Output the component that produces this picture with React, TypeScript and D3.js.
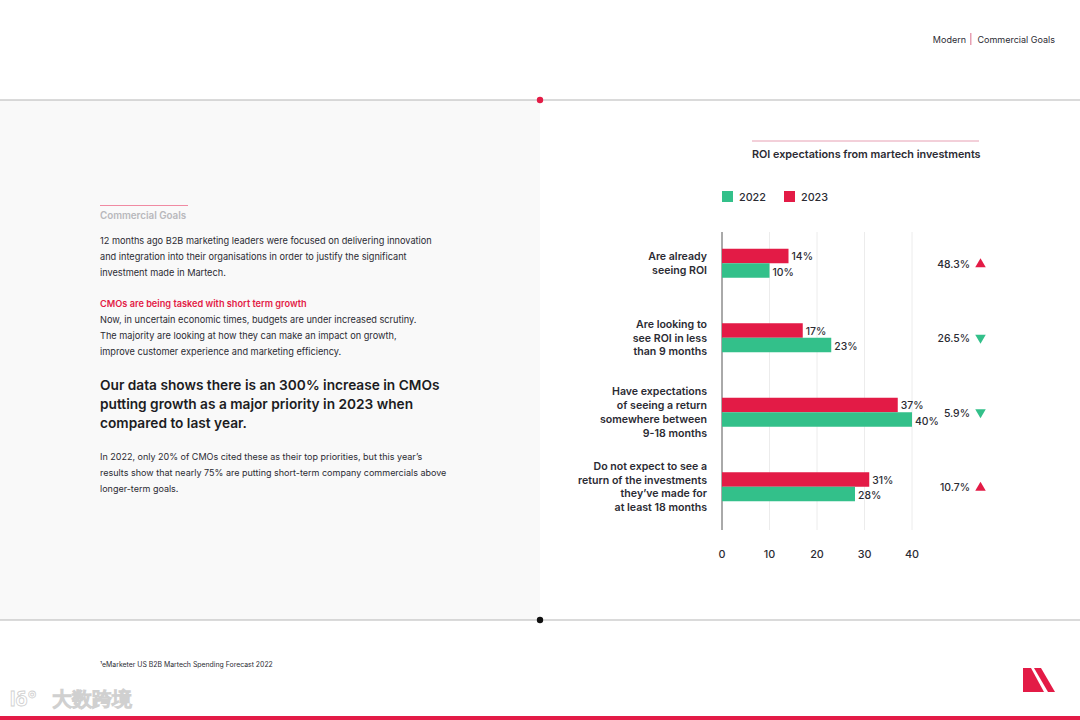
import * as d3 from 'd3'

const categories = [
  ['Are already', 'seeing ROI'],
  ['Are looking to', 'see ROI in less', 'than 9 months'],
  ['Have expectations', 'of seeing a return', 'somewhere between', '9-18 months'],
  ['Do not expect to see a', 'return of the investments', 'they\u2019ve made for', 'at least 18 months'],
]
const values2022 = [10, 23, 40, 28]
const values2023 = [14, 17, 37, 31]
const changeLabels = ['48.3%', '26.5%', '5.9%', '10.7%']
const changeDirections = ['up', 'down', 'down', 'up']
const xTicks = [0, 10, 20, 30, 40]

const introLines = [
  '12 months ago B2B marketing leaders were focused on delivering innovation',
  'and integration into their organisations in order to justify the significant',
  'investment made in Martech.',
]
const growthLines = [
  'Now, in uncertain economic times, budgets are under increased scrutiny.',
  'The majority are looking at how they can make an impact on growth,',
  'improve customer experience and marketing efficiency.',
]
const headlineLines = [
  'Our data shows there is an 300% increase in CMOs',
  'putting growth as a major priority in 2023 when',
  'compared to last year.',
]
const closingLines = [
  'In 2022, only 20% of CMOs cited these as their top priorities, but this year\u2019s',
  'results show that nearly 75% are putting short-term company commercials above',
  'longer-term goals.',
]

const RED = '#e31b46'
const GREEN = '#33c08a'
const DARK = '#2b2b33'
const FONT = 'Inter, "Noto Sans", sans-serif'

export default function App() {
  const x = d3.scaleLinear().domain([0, 40]).range([722, 912])
  const y = d3.scaleBand<number>().domain(d3.range(categories.length)).range([226, 524])
  const barH = 14.5
  const tri = d3.symbol(d3.symbolTriangle, 48)()

  return (
    <svg
      width={1080}
      height={720}
      style={{ position: 'absolute', left: 0, top: 0, background: '#fff', fontFamily: FONT }}
    >
      {/* header */}
      <text x={966} y={43} fontSize={9} fill={DARK} textAnchor="end">Modern</text>
      <rect x={970} y={33} width={1.5} height={12} fill="#e7a0b3" />
      <text x={1055} y={43} fontSize={9} fill={DARK} textAnchor="end">Commercial Goals</text>

      {/* left panel */}
      <rect x={0} y={100} width={540} height={520} fill="#f9f9f9" />
      <line x1={0} x2={1080} y1={100} y2={100} stroke="#b5b5b5" strokeWidth={1.2} />
      <line x1={0} x2={1080} y1={620} y2={620} stroke="#b5b5b5" strokeWidth={1.2} />
      <circle cx={540} cy={100} r={3.2} fill={RED} />
      <circle cx={540} cy={620} r={3.2} fill="#111" />

      <line x1={100} x2={188} y1={205.5} y2={205.5} stroke="#f08aa2" strokeWidth={1} />
      <text x={100} y={219} fontSize={9.8} fontWeight={600} fill="#b8b8bc">Commercial Goals</text>
      {introLines.map((t, i) => (
        <text key={t} x={100} y={244 + i * 16} fontSize={9.2} fill={DARK}>{t}</text>
      ))}
      <text x={100} y={307} fontSize={9.2} fontWeight={600} fill={RED}>CMOs are being tasked with short term growth</text>
      {growthLines.map((t, i) => (
        <text key={t} x={100} y={323 + i * 16} fontSize={9.2} fill={DARK}>{t}</text>
      ))}
      {headlineLines.map((t, i) => (
        <text key={t} x={100} y={390 + i * 19} fontSize={13.7} fontWeight={600} fill="#1c1c22">{t}</text>
      ))}
      {closingLines.map((t, i) => (
        <text key={t} x={100} y={460 + i * 16} fontSize={9} fill={DARK}>{t}</text>
      ))}

      {/* chart title */}
      <line x1={752} x2={979} y1={141} y2={141} stroke="#e7a0b3" strokeWidth={1} />
      <text x={752} y={158} fontSize={10.8} fontWeight={600} fill={DARK}>ROI expectations from martech investments</text>

      {/* legend */}
      <rect x={722} y={191} width={11} height={11} fill={GREEN} />
      <text x={739} y={200.5} fontSize={10.8} fontWeight={500} fill={DARK}>2022</text>
      <rect x={784} y={191} width={11} height={11} fill={RED} />
      <text x={801} y={200.5} fontSize={10.8} fontWeight={500} fill={DARK}>2023</text>

      {/* grid */}
      {xTicks.slice(1).map((t) => (
        <line key={t} x1={x(t)} x2={x(t)} y1={232} y2={530} stroke="#ececec" strokeWidth={1} />
      ))}
      <line x1={x(0)} x2={x(0)} y1={232} y2={530} stroke="#555" strokeWidth={1} />
      {xTicks.map((t) => (
        <text key={t} x={x(t)} y={558} fontSize={10.8} fontWeight={500} fill={DARK} textAnchor="middle">{t}</text>
      ))}

      {/* bars */}
      {categories.map((lines, i) => {
        const cy = (y(i) as number) + y.bandwidth() / 2
        const lh = 13.8
        const top = cy - ((lines.length - 1) * lh) / 2
        return (
          <g key={i}>
            {lines.map((l, j) => (
              <text key={l} x={707} y={top + j * lh + 3.8} fontSize={10.6} fontWeight={600} fill={DARK} textAnchor="end">{l}</text>
            ))}
            <rect x={x(0)} y={cy - barH} width={x(values2023[i]) - x(0)} height={barH} fill={RED} />
            <rect x={x(0)} y={cy} width={x(values2022[i]) - x(0)} height={barH} fill={GREEN} />
            <text x={x(values2023[i]) + 3} y={cy - barH / 2 + 4} fontSize={10.4} fontWeight={500} fill={DARK}>{values2023[i]}%</text>
            <text x={x(values2022[i]) + 3} y={cy + barH / 2 + 5} fontSize={10.4} fontWeight={500} fill={DARK}>{values2022[i]}%</text>
            <text x={970} y={cy + 4.5} fontSize={10.4} fontWeight={500} fill={DARK} textAnchor="end">{changeLabels[i]}</text>
            <path
              d={tri as string}
              transform={`translate(980.5,${cy + (changeDirections[i] === 'up' ? 1 : 0)}) rotate(${changeDirections[i] === 'up' ? 0 : 180})`}
              fill={changeDirections[i] === 'up' ? RED : GREEN}
            />
          </g>
        )
      })}

      {/* footer */}
      <text x={100} y={667} fontSize={6.9} fill={DARK}>¹eMarketer US B2B Martech Spending Forecast 2022</text>
      <text x={52} y={706} fontSize={20} fontWeight={700} fill="#fff" stroke="#d0d0d0" strokeWidth={0.8}>大数跨境</text>
      <text x={10} y={706} fontSize={20} fontWeight={700} fill="#fff" stroke="#d0d0d0" strokeWidth={0.8}>lδ°</text>
      <path d="M1023,692 L1023,668 L1031,668 L1044,692 Z" fill={RED} />
      <path d="M1034,668 L1041,668 L1055,692 L1048,692 Z" fill={RED} />
      <rect x={0} y={716} width={1080} height={4} fill={RED} />
    </svg>
  )
}
